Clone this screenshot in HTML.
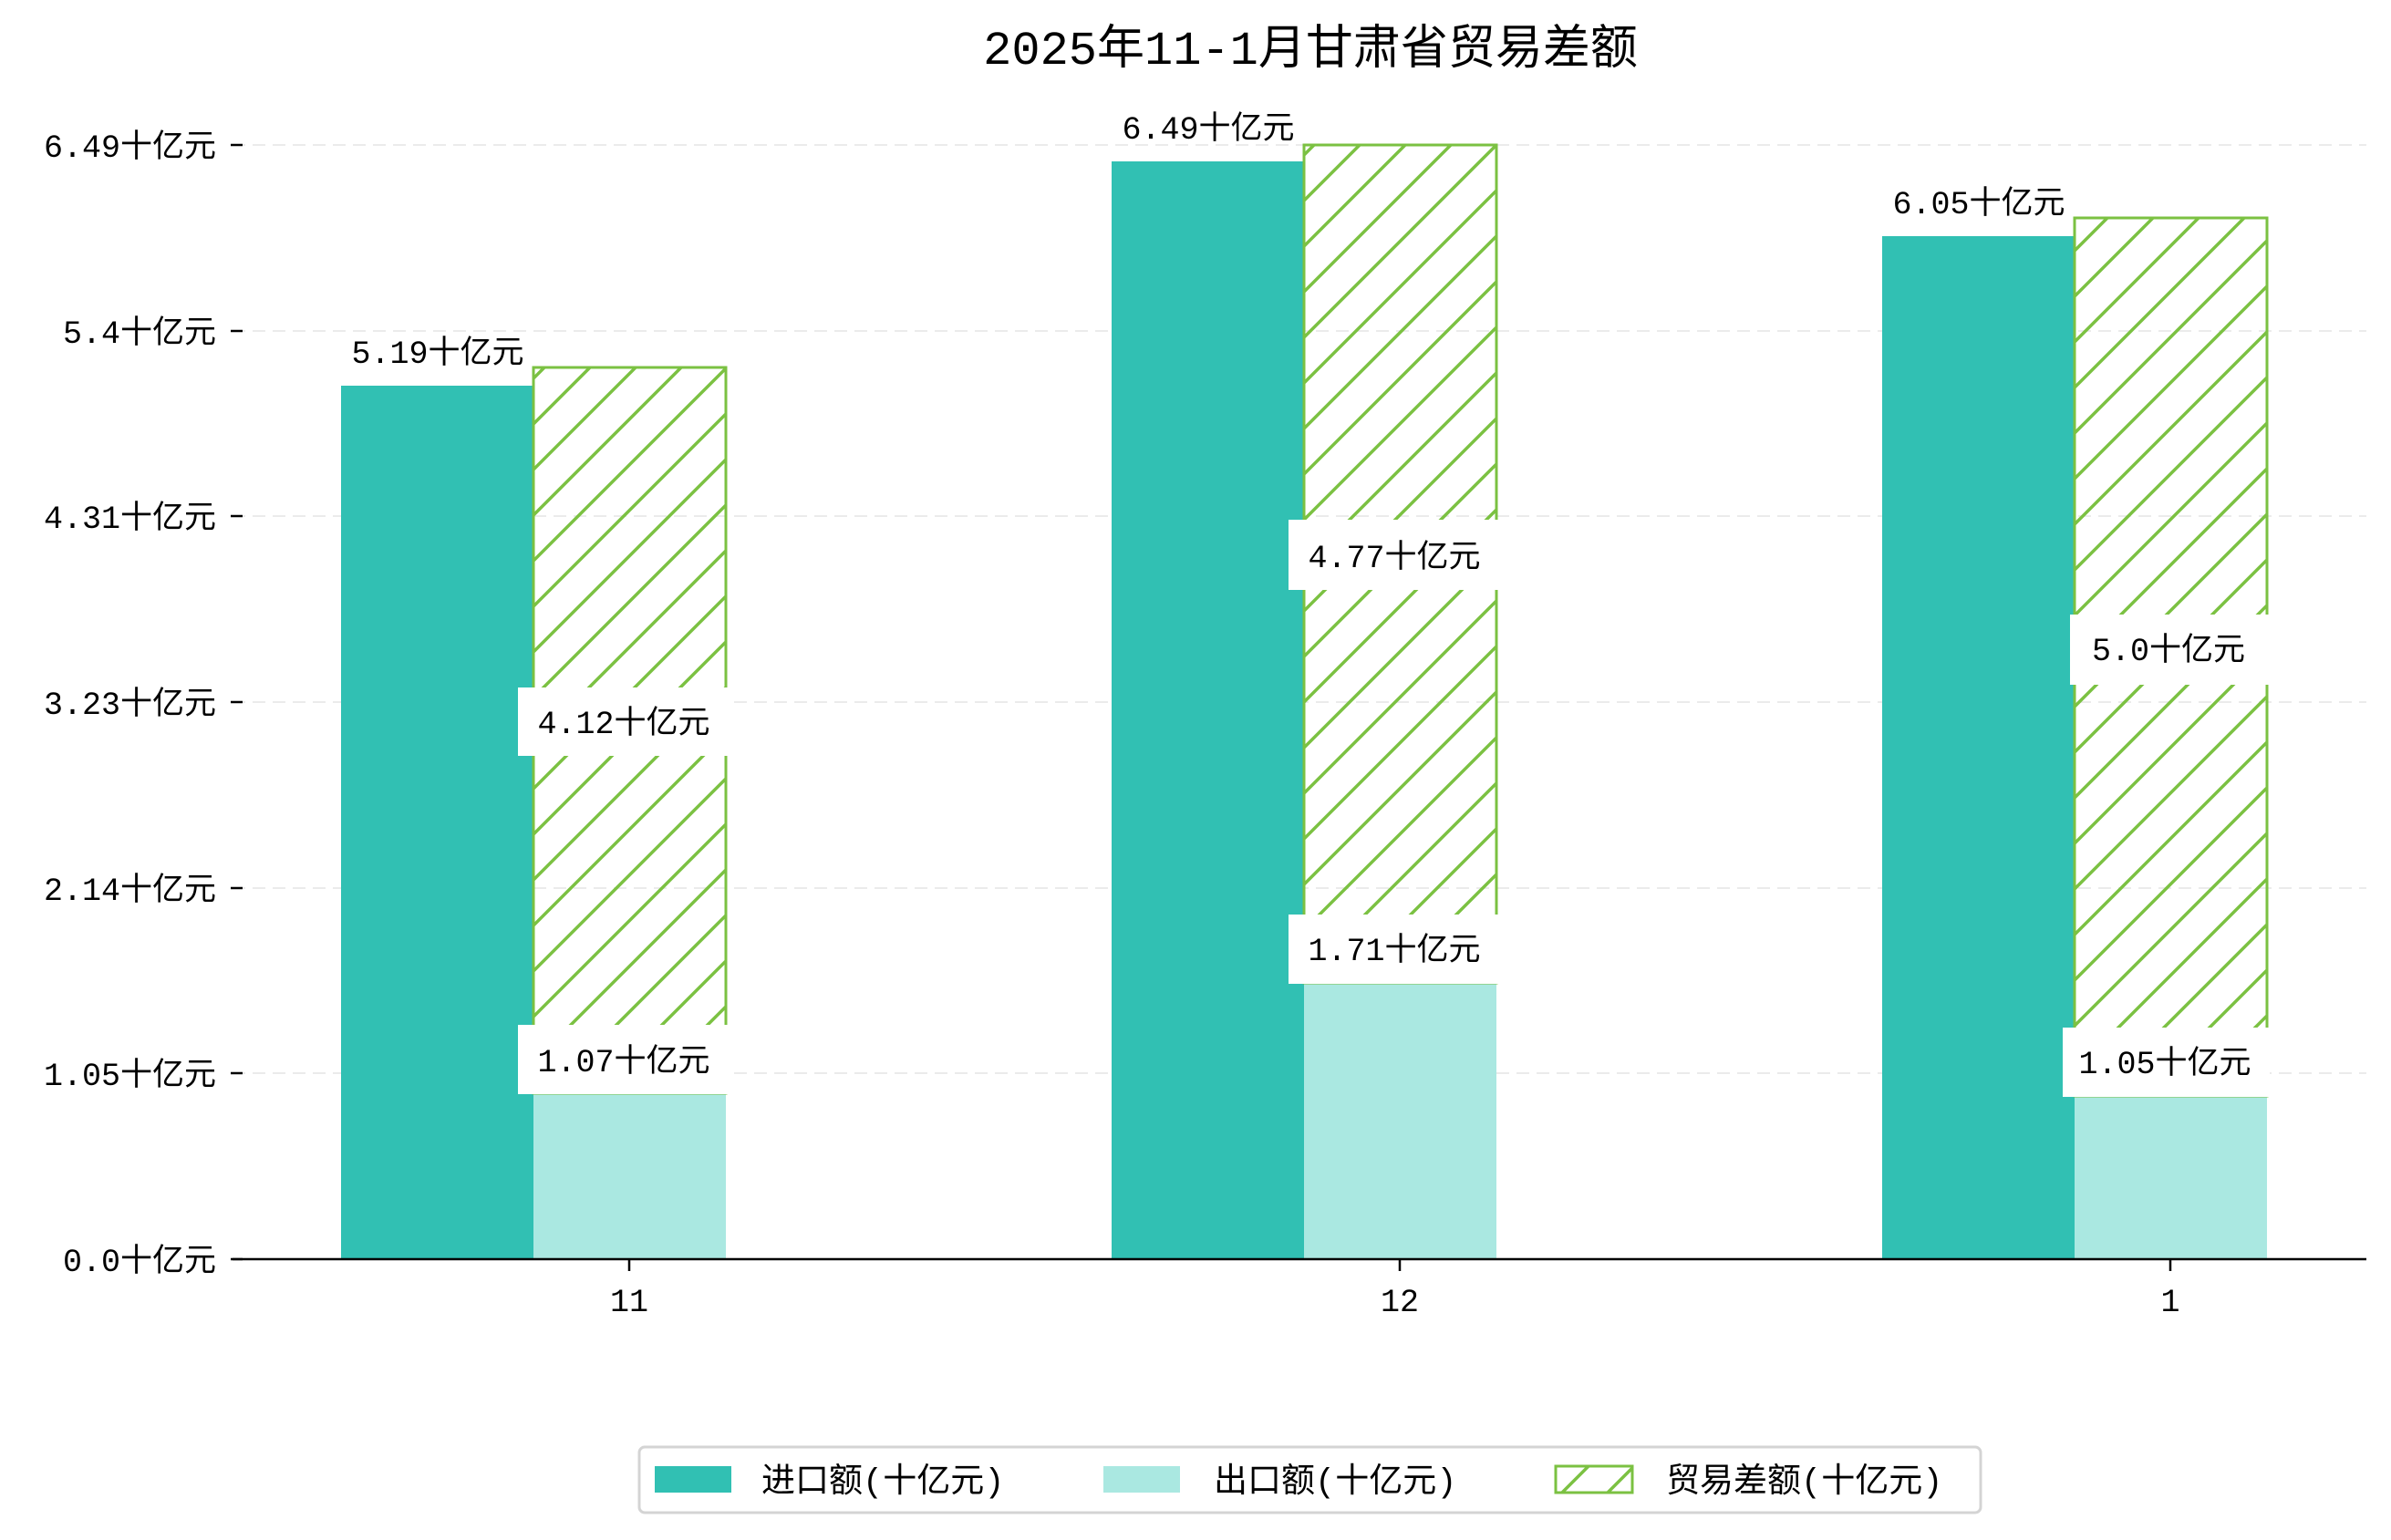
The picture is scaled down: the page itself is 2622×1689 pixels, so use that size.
<!DOCTYPE html>
<html><head><meta charset="utf-8"><style>
html,body{margin:0;padding:0;background:#fff;}
svg{display:block;}
text{font-family:"Liberation Mono","WenQuanYi Zen Hei","Noto Sans CJK SC",monospace;fill:#000;}
</style></head><body>
<svg width="2622" height="1689" viewBox="0 0 2622 1689" xmlns="http://www.w3.org/2000/svg">
<defs>
<pattern id="h" patternUnits="userSpaceOnUse" width="50" height="50">
<path d="M-10,60 L60,-10 M-60,60 L10,-10 M40,60 L110,-10" stroke="#7bc142" stroke-width="3.5"/>
</pattern>
</defs>
<text x="1437" y="70" font-size="52" text-anchor="middle">2025年11-1月甘肃省贸易差额</text>
<g stroke="#ebebeb" stroke-width="2" stroke-dasharray="14,8">
<line x1="255" x2="2595" y1="159" y2="159"/><line x1="255" x2="2595" y1="363" y2="363"/>
<line x1="255" x2="2595" y1="566" y2="566"/><line x1="255" x2="2595" y1="770" y2="770"/>
<line x1="255" x2="2595" y1="974" y2="974"/><line x1="255" x2="2595" y1="1177" y2="1177"/>
</g>
<g font-size="35" text-anchor="end">
<text x="237" y="172">6.49十亿元</text><text x="237" y="376">5.4十亿元</text>
<text x="237" y="579">4.31十亿元</text><text x="237" y="783">3.23十亿元</text>
<text x="237" y="987">2.14十亿元</text><text x="237" y="1190">1.05十亿元</text>
<text x="237" y="1394">0.0十亿元</text>
</g>
<g stroke="#000" stroke-width="2.5">
<line x1="253" x2="266" y1="159" y2="159"/><line x1="253" x2="266" y1="363" y2="363"/>
<line x1="253" x2="266" y1="566" y2="566"/><line x1="253" x2="266" y1="770" y2="770"/>
<line x1="253" x2="266" y1="974" y2="974"/><line x1="253" x2="266" y1="1177" y2="1177"/>
<line x1="253" x2="266" y1="1381" y2="1381"/>
</g>
<rect x="374" y="423" width="211" height="958" fill="#31c0b3"/>
<rect x="585" y="1199" width="211" height="182" fill="#aae8e1"/>
<rect x="585" y="403" width="211" height="796" fill="url(#h)" stroke="#7bc142" stroke-width="3"/>
<rect x="1219" y="177" width="211" height="1204" fill="#31c0b3"/>
<rect x="1430" y="1078" width="211" height="303" fill="#aae8e1"/>
<rect x="1430" y="159" width="211" height="919" fill="url(#h)" stroke="#7bc142" stroke-width="3"/>
<rect x="2064" y="259" width="211" height="1122" fill="#31c0b3"/>
<rect x="2275" y="1202" width="211" height="179" fill="#aae8e1"/>
<rect x="2275" y="239" width="211" height="963" fill="url(#h)" stroke="#7bc142" stroke-width="3"/>
<line x1="255" x2="2595" y1="1381" y2="1381" stroke="#000" stroke-width="2.5"/>
<g stroke="#000" stroke-width="2.5">
<line x1="690" x2="690" y1="1381" y2="1394"/><line x1="1535" x2="1535" y1="1381" y2="1394"/><line x1="2380" x2="2380" y1="1381" y2="1394"/>
</g>
<g font-size="35" text-anchor="middle">
<text x="690" y="1438">11</text><text x="1535" y="1438">12</text><text x="2380" y="1438">1</text>
<text x="480" y="398">5.19十亿元</text>
<text x="1325" y="152">6.49十亿元</text>
<text x="2170" y="234">6.05十亿元</text>
</g>
<g fill="#fff">
<rect x="568" y="754" width="231" height="75"/><rect x="568" y="1124" width="231" height="76"/>
<rect x="1413" y="570" width="231" height="77"/><rect x="1413" y="1003" width="231" height="76"/>
<rect x="2270" y="674" width="219" height="77"/><rect x="2262" y="1127" width="227" height="76"/>
</g>
<g font-size="35" text-anchor="middle">
<text x="684" y="804">4.12十亿元</text><text x="684" y="1175">1.07十亿元</text>
<text x="1529" y="622">4.77十亿元</text><text x="1529" y="1053">1.71十亿元</text>
<text x="2378" y="724">5.0十亿元</text><text x="2374" y="1177">1.05十亿元</text>
</g>
<rect x="701" y="1587" width="1471" height="72" rx="6" fill="#fff" stroke="#d4d4d4" stroke-width="3"/>
<rect x="718" y="1608" width="84" height="29" fill="#31c0b3"/>
<rect x="1210" y="1608" width="84" height="29" fill="#aae8e1"/>
<rect x="1706" y="1608" width="84" height="29" fill="url(#h)" stroke="#7bc142" stroke-width="3"/>
<g font-size="37">
<text x="835" y="1636">进口额(十亿元)</text>
<text x="1331" y="1636">出口额(十亿元)</text>
<text x="1827" y="1636">贸易差额(十亿元)</text>
</g>
</svg>
</body></html>
